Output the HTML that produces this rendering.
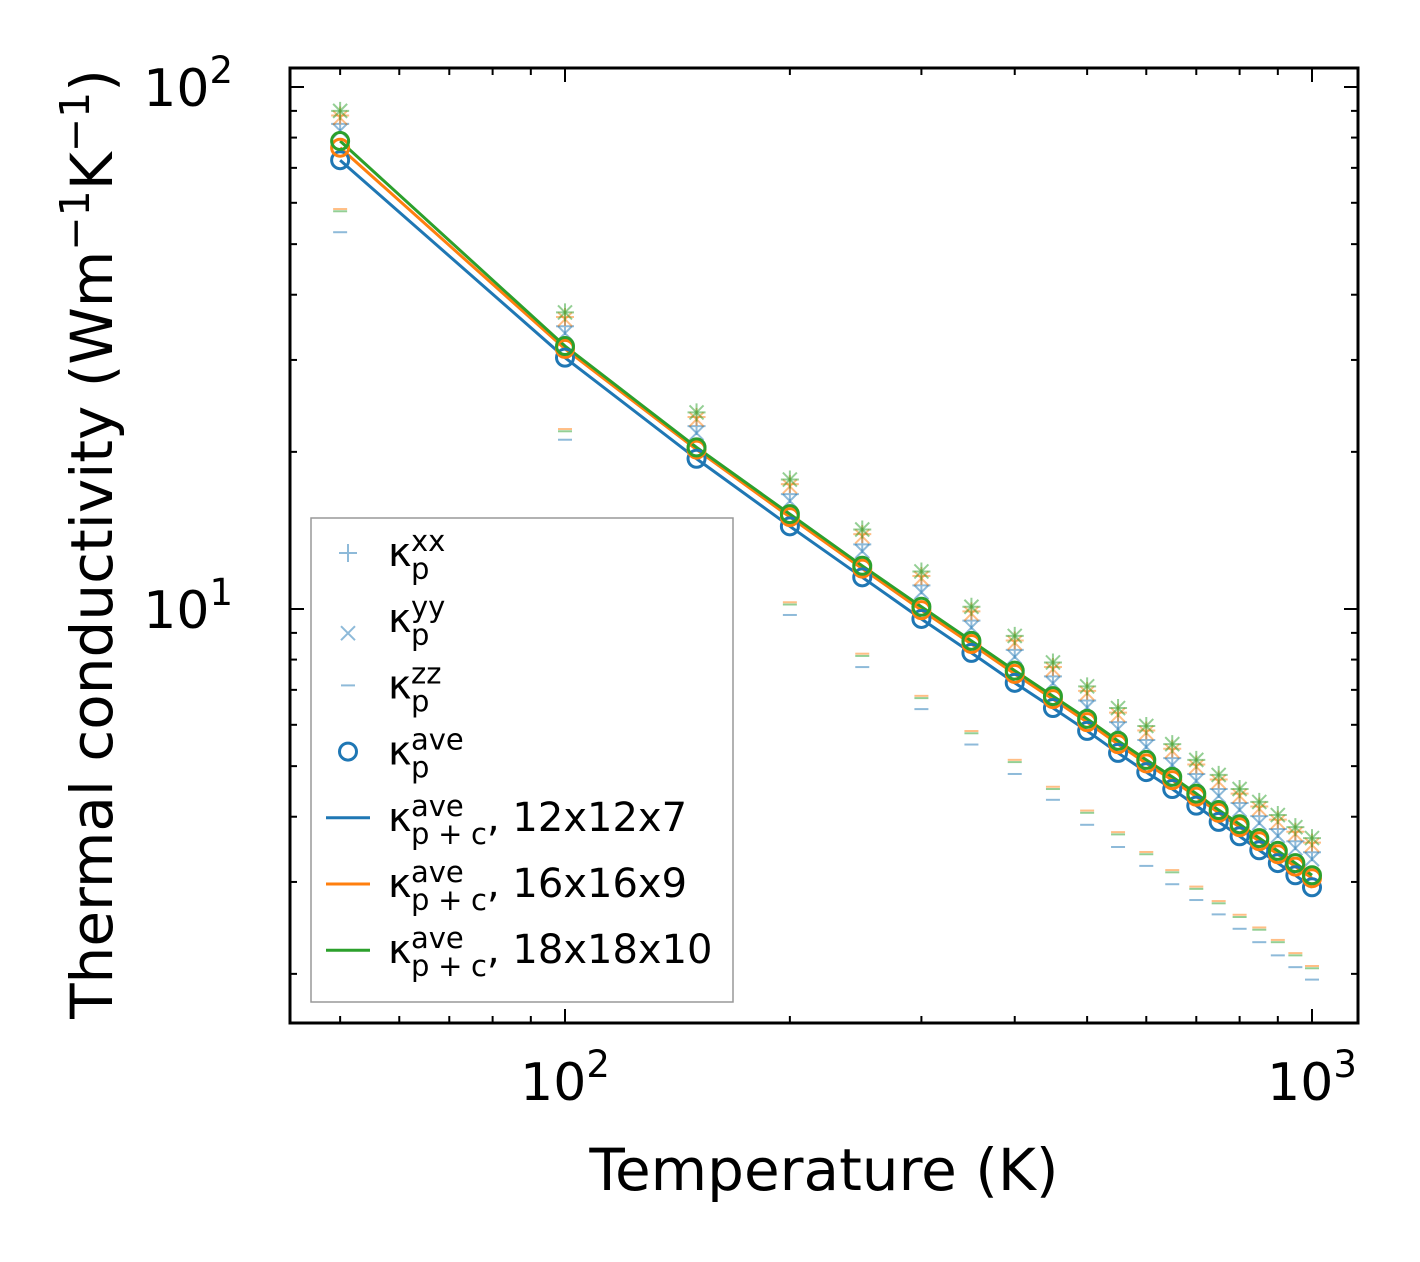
<!DOCTYPE html>
<html><head><meta charset="utf-8"><style>
html,body{margin:0;padding:0;background:#fff}
svg{display:block;font-family:"DejaVu Sans","Liberation Sans",sans-serif}
</style></head><body>
<svg id="chart" width="1420" height="1262" xmlns="http://www.w3.org/2000/svg"></svg>
<script>
const temps=[50,100,150,200,250,300,350,400,450,500,550,600,650,700,750,800,850,900,950,1000];
const aveBlue=[72.4,30.3,19.4,14.4,11.5,9.57,8.24,7.22,6.46,5.84,5.30,4.87,4.52,4.20,3.91,3.67,3.45,3.26,3.09,2.93];
const aveOrange=[76.5,31.5,20.2,15.0,11.95,9.95,8.57,7.51,6.72,6.07,5.51,5.06,4.70,4.37,4.07,3.82,3.59,3.39,3.21,3.05];
const aveGreen=[78.8,31.9,20.4,15.2,12.1,10.1,8.69,7.62,6.81,6.16,5.59,5.14,4.77,4.43,4.12,3.87,3.64,3.44,3.26,3.09];
const xxBlue=[85,34.8,22.4,16.6,13.3,11.1,9.5,8.35,7.43,6.68,6.07,5.61,5.18,4.83,4.52,4.25,4.01,3.79,3.59,3.42];
const xxGreen=[90,37,23.8,17.7,14.2,11.8,10.1,8.88,7.9,7.11,6.46,5.97,5.51,5.14,4.81,4.52,4.27,4.03,3.82,3.64];
const zzBlue=[52.7,21.1,13.1,9.74,7.74,6.43,5.5,4.83,4.31,3.86,3.5,3.22,2.97,2.77,2.6,2.44,2.30,2.17,2.06,1.95];
const zzGreen=[57.8,21.9,13.9,10.2,8.13,6.75,5.78,5.09,4.52,4.07,3.7,3.39,3.13,2.91,2.73,2.57,2.43,2.3,2.17,2.05];
const xTicks=[100,1000];
const yTicks=[10,100];

const NS="http://www.w3.org/2000/svg";
const svg=document.getElementById('chart');
const L=290,R=1358,T=68,B=1023;
const X=v=>565+(Math.log10(v)-2)*747;
const Y=v=>609-(Math.log10(v)-1)*522;
function el(tag,attrs,parent){const e=document.createElementNS(NS,tag);for(const k in attrs)e.setAttribute(k,attrs[k]);(parent||svg).appendChild(e);return e;}
const C={b:'#1f77b4',o:'#ff7f0e',g:'#2ca02c'};

const mk=el('g',{});


function plus(x,y,c,p){el('path',{d:`M${x-9},${y}h18M${x},${y-9}v18`,stroke:c,'stroke-width':2,opacity:0.5},p||mk);}
function cross(x,y,c,p){el('path',{d:`M${x-7},${y-7}l14,14M${x-7},${y+7}l14,-14`,stroke:c,'stroke-width':2,opacity:0.5},p||mk);}
function dash(x,y,c,p){el('path',{d:`M${x-7},${y}h14`,stroke:c,'stroke-width':2,opacity:0.5},p||mk);}
temps.forEach((t,i)=>{
  const x=X(t);
  plus(x,Y(xxBlue[i]),C.b);cross(x,Y(xxBlue[i]*0.97),C.b);
  plus(x,Y(xxGreen[i]*0.98),C.o);cross(x,Y(xxGreen[i]*0.97),C.o);
  plus(x,Y(xxGreen[i]),C.g);cross(x,Y(xxGreen[i]),C.g);
  dash(x,Y(zzBlue[i]),C.b);dash(x,Y(zzGreen[i]*1.01),C.o);dash(x,Y(zzGreen[i]),C.g);
});
[[aveBlue,C.b,'blue'],[aveOrange,C.o,'orange'],[aveGreen,C.g,'green']].forEach(([arr,c,n])=>{
  const p=el('polyline',{points:temps.map((t,i)=>X(t)+','+Y(arr[i])).join(' '),fill:'none',stroke:c,'stroke-width':3});
  
  
});
[[aveBlue,C.b,'blue'],[aveOrange,C.o,'orange'],[aveGreen,C.g,'green']].forEach(([arr,c,n])=>{
  temps.forEach((t,i)=>{
    const ci=el('circle',{cx:X(t),cy:Y(arr[i]),r:8.5,fill:'none',stroke:c,'stroke-width':3});
    
    
  });
});

const fr=el('rect',{x:L,y:T,width:R-L,height:B-T,fill:'none',stroke:'#000','stroke-width':3});


const tk=el('g',{stroke:'#000','stroke-width':2});
for(let d=10;d<=1000;d*=10){for(let m=1;m<10;m++){const v=d*m;const x=X(v);if(x<L||x>R)continue;const len=m===1?14:7;
  el('line',{x1:x,y1:B,x2:x,y2:B-len},tk);el('line',{x1:x,y1:T,x2:x,y2:T+len},tk);}}
for(let d=1;d<=100;d*=10){for(let m=1;m<10;m++){const v=d*m;const y=Y(v);if(y<T||y>B)continue;const len=m===1?14:7;
  el('line',{x1:L,y1:y,x2:L+len,y2:y},tk);el('line',{x1:R,y1:y,x2:R-len,y2:y},tk);}}
xTicks.forEach(v=>{const t=el('text',{x:X(v),y:1100,'font-size':52,'text-anchor':'middle'});
  
  t.innerHTML=`10<tspan dy="-23" font-size="37">${Math.round(Math.log10(v))}</tspan>`;});
yTicks.forEach(v=>{const t=el('text',{x:233,y:Y(v)+19,'font-size':52,'text-anchor':'end'});
  
  t.innerHTML=`10<tspan dy="-23" font-size="37">${Math.round(Math.log10(v))}</tspan>`;});
const xt=el('text',{x:824,y:1190,'font-size':58,'text-anchor':'middle'});

xt.textContent='Temperature (K)';
const yt=el('text',{x:0,y:0,'font-size':58,'text-anchor':'middle',transform:'translate(112,544) rotate(-90)'});

yt.innerHTML='Thermal conductivity (Wm<tspan dy="-23" font-size="41">−1</tspan><tspan dy="23">K</tspan><tspan dy="-23" font-size="41">−1</tspan><tspan dy="23">)</tspan>';

const lg=el('g',{});

el('rect',{x:311,y:518,width:422,height:484,fill:'#fff',stroke:'#999','stroke-width':1.5},lg);
const ent=[['p','xx','','plus',C.b],['p','yy','','cross',C.b],['p','zz','','dash',C.b],['p','ave','','circle',C.b],
 ['p + c','ave',', 12x12x7','line',C.b],['p + c','ave',', 16x16x9','line',C.o],['p + c','ave',', 18x18x10','line',C.g]];
ent.forEach((e,i)=>{
  const y=553+i*66.2;const g=el('g',{},lg);
  
  const mx=348;
  if(e[3]==='plus')plus(mx,y,e[4],g);
  if(e[3]==='cross')cross(mx,y+14,e[4],g);
  if(e[3]==='dash')dash(mx,y,e[4],g);
  if(e[3]==='circle')el('circle',{cx:mx,cy:y,r:8.5,fill:'none',stroke:e[4],'stroke-width':3},g);
  if(e[3]==='line')el('line',{x1:326,y1:y,x2:370,y2:y,stroke:e[4],'stroke-width':3},g);
  el('text',{x:388,y:y+13,'font-size':40},g).textContent='κ';
  el('text',{x:411,y:y+26,'font-size':29,textLength:e[0].length>1?76:null},g).textContent=e[0];
  el('text',{x:411,y:y-2,'font-size':29},g).textContent=e[1];
  if(e[2])el('text',{x:487,y:y+13,'font-size':40},g).textContent=e[2];
});
</script>
</body></html>
